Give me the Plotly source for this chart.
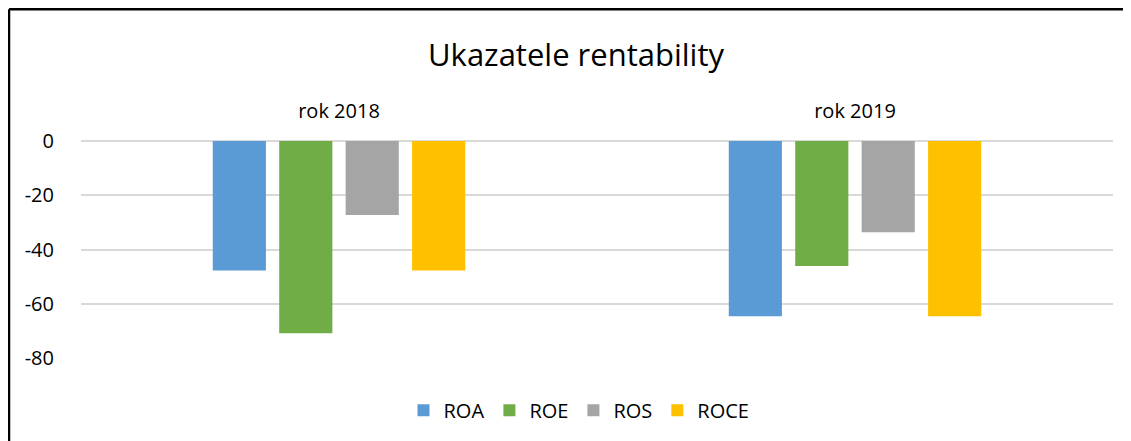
import plotly.graph_objects as go

categories = ["rok 2018", "rok 2019"]
series_names = ["ROA", "ROE", "ROS", "ROCE"]
roa = [-47.7, -64.6]
roe = [-70.9, -46.1]
ros = [-27.3, -33.6]
roce = [-47.7, -64.6]
y_ticks = [0, -20, -40, -60, -80]
y_tick_labels = ["0", "-20", "-40", "-60", "-80"]

colors = ["#5B9BD5", "#70AD47", "#A5A5A5", "#FFC000"]
values = [roa, roe, ros, roce]

FONT = "Open Sans"
OFF = 8  # default page body margin

fig = go.Figure()
for name, vals, col in zip(series_names, values, colors):
    fig.add_trace(go.Bar(name=name, x=categories, y=vals, marker=dict(color=col, line=dict(width=0))))

W, H = 1131 - OFF, 441 - OFF
L, T = 81 - OFF, 141 - OFF
R = 18
B = H - (357.7 - OFF)
pw, ph = W - L - R, H - T - B

def px_x(x):
    return (x - OFF - L) / pw

def px_y(y):
    return 1 - (y - OFF - T) / ph

fig.update_layout(
    width=W, height=H,
    margin=dict(l=L, r=R, t=T, b=B, autoexpand=False),
    paper_bgcolor="white", plot_bgcolor="white",
    barmode="group", bargap=0.485, bargroupgap=0.2,
    font=dict(family=FONT, color="#000000", size=20),
    title=dict(text="Ukazatele rentability", x=(576 - OFF) / W, xanchor="center",
               y=1 - (55 - OFF) / H, yanchor="middle",
               font=dict(family=FONT, size=31, color="#000000")),
    xaxis=dict(side="top", showgrid=False, showline=False, ticks="outside", ticklen=14,
               tickcolor="rgba(0,0,0,0)", tickfont=dict(size=20, family=FONT)),
    yaxis=dict(range=[-80, 0], tickvals=y_ticks, ticktext=y_tick_labels,
               showgrid=True, gridcolor="#D9D9D9", gridwidth=1.5,
               zeroline=True, zerolinecolor="#D9D9D9", zerolinewidth=1.5, showline=False,
               ticks="outside", ticklen=22, tickcolor="rgba(0,0,0,0)",
               tickfont=dict(size=20, family=FONT)),
    legend=dict(orientation="h", x=px_x(579), xanchor="center", y=px_y(410), yanchor="middle",
                font=dict(size=20, family=FONT), itemwidth=30, traceorder="normal"),
    showlegend=True,
)

fig.add_shape(type="line", xref="paper", yref="paper", x0=px_x(9), x1=px_x(1140), y0=px_y(9.5), y1=px_y(9.5),
              line=dict(color="black", width=2.5))
fig.add_shape(type="line", xref="paper", yref="paper", x0=px_x(9), x1=px_x(9), y0=px_y(9.5), y1=px_y(450),
              line=dict(color="black", width=2.5))

fig.write_html("out.html")
